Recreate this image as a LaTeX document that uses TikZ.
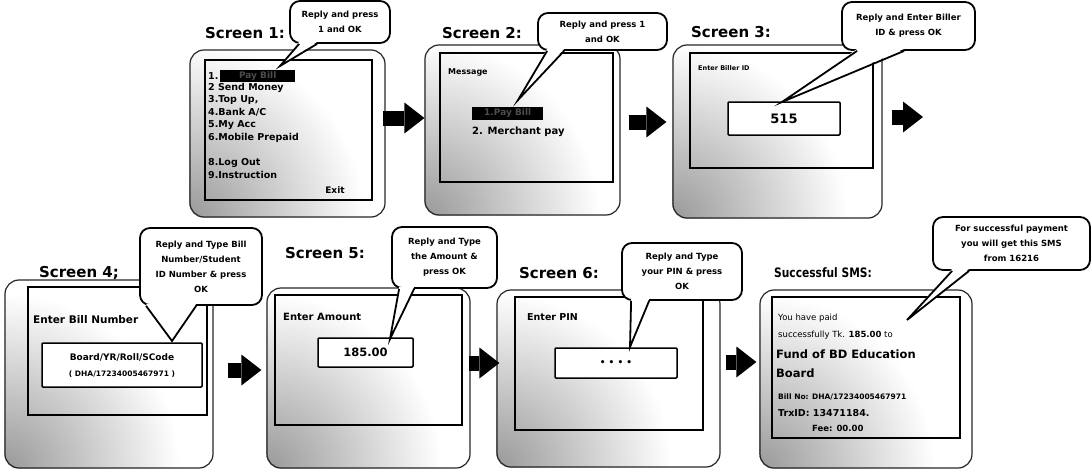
\documentclass[tikz,border=0pt]{standalone}
\usepackage{fontspec}
\setmainfont{DejaVu Sans}
\usetikzlibrary{arrows.meta,calc}
\pgfdeclarelayer{bg}
\pgfsetlayers{bg,main}
\begin{document}
\begin{tikzpicture}[x=1pt,y=-1pt,
  body/.style={draw=black!85, line width=1.2pt, rounded corners=14pt, inner sep=0pt},
  scr/.style={draw, line width=1.5pt, inner sep=0pt},
  title/.style={font=\fontsize{15}{18}\selectfont\bfseries, inner sep=0pt},
  callout/.style={draw, line width=1.8pt, rounded corners=10pt, fill=white, align=center,
                  font=\fontsize{8.5}{15}\selectfont\bfseries, inner sep=2pt},
  tailline/.style={line width=1.8pt, line join=miter},
  inbox/.style={draw, line width=1.5pt, fill=white, rounded corners=1pt, inner sep=0pt},
  menu/.style={anchor=west, font=\fontsize{9.5}{11}\selectfont\bfseries, inner sep=0pt},
  lbl/.style={anchor=west, inner sep=0pt},
  hilite/.style={fill=black, text=black!70, anchor=west, inner sep=0pt,
                 font=\fontsize{9}{10}\selectfont\bfseries},
  flow/.style={line width=15pt, -{Triangle[length=20pt,width=31pt,line width=0pt]}}]
\useasboundingbox (0,0) rectangle (1092,471);

% ---------- phone bodies ----------
\node[body, minimum width=195pt, minimum height=167pt] (b1) at (287.5,133.5) {};
\node[body, minimum width=195pt, minimum height=170pt] (b2) at (522.5,130) {};
\node[body, minimum width=209pt, minimum height=173pt] (b3) at (777.5,131.5) {};
\node[body, minimum width=208pt, minimum height=188pt] (b4) at (109,374) {};
\node[body, minimum width=203pt, minimum height=180pt] (b5) at (368.5,378) {};
\node[body, minimum width=223pt, minimum height=177pt] (b6) at (608.5,378.5) {};
\node[body, minimum width=212pt, minimum height=178pt] (b7) at (866,379) {};

\begin{pgfonlayer}{bg}
\foreach \b in {b1,b2,b3,b4,b5,b6,b7}{
  \begin{scope}
    \clip[rounded corners=14pt] (\b.south west) rectangle (\b.north east);
    \shade[inner color=black!40, outer color=white] (\b.south west) circle[radius=175pt];
  \end{scope}
}
\end{pgfonlayer}

% ---------- screens ----------
\node[scr, minimum width=167pt, minimum height=140pt] (s1) at (288.5,130) {};
\node[scr, minimum width=173pt, minimum height=129pt] (s2) at (526.5,117.5) {};
\node[scr, minimum width=183pt, minimum height=115pt] (s3) at (781.5,110.5) {};
\node[scr, minimum width=179pt, minimum height=128pt] (s4) at (117.5,351) {};
\node[scr, minimum width=187pt, minimum height=130pt] (s5) at (368.5,360) {};
\node[scr, minimum width=188pt, minimum height=133pt] (s6) at (609,363.5) {};
\node[scr, minimum width=188pt, minimum height=141pt] (s7) at (866,367.5) {};

% ---------- titles ----------
\node[title] (t1) at (245,33) {Screen 1:};
\node[title] (t2) at (482,33) {Screen 2:};
\node[title] (t3) at (731,32) {Screen 3:};
\node[title] (t4) at (79,273) {Screen 4;};
\node[title] (t5) at (325,253) {Screen 5:};
\node[title] (t6) at (559,273) {Screen 6:};
\node[inner sep=0pt, font=\fontsize{13}{15}\selectfont\bfseries] (t7) at (823,273) {\scalebox{0.82}[1]{Successful SMS:}};

% ---------- screen 1 menu ----------
\node[menu] (m1) at (208,76) {1.};
\node[hilite, minimum width=75pt, minimum height=12pt] (m1h) at (220,76) {Pay Bill};
\node[menu] (m2) at (208,88) {2 Send Money};
\node[menu] (m3) at (208,100) {3.Top Up,};
\node[menu] (m4) at (208,112.5) {4.Bank A/C};
\node[menu] (m5) at (208,125) {5.My Acc};
\node[menu] (m6) at (208,137.5) {6.Mobile Prepaid};
\node[menu] (m8) at (208,162.5) {8.Log Out};
\node[menu] (m9) at (208,175) {9.Instruction};
\node[inner sep=0pt, font=\fontsize{9}{10}\selectfont\bfseries] (ex) at (335,190) {Exit};

% ---------- screen 2 ----------
\node[lbl, font=\fontsize{8}{9}\selectfont\bfseries] (msg) at (448,72) {Message};
\node[hilite, minimum width=71pt, minimum height=13pt] (p1) at (472,113.5) {1.Pay Bill};
\node[lbl, font=\fontsize{10}{12}\selectfont\bfseries] (p2) at (472,132) {2. Merchant pay};

% ---------- screen 3 ----------
\node[lbl, font=\fontsize{6.5}{8}\selectfont\bfseries] (eb) at (698,68) {Enter Biller ID};
\node[inbox, minimum width=112pt, minimum height=33pt, font=\fontsize{13}{15}\selectfont\bfseries] (in3) at (784,118.5) {515};

% ---------- screen 4 ----------
\node[lbl, font=\fontsize{10.5}{12}\selectfont\bfseries] (ebn) at (33,320) {Enter Bill Number};
\node[inbox, minimum width=160pt, minimum height=44pt] (in4) at (122,365) {};
\node[inner sep=0pt, font=\fontsize{9}{10}\selectfont\bfseries] (bc) at (122,357) {Board/YR/Roll/SCode};
\node[inner sep=0pt, font=\fontsize{7.5}{9}\selectfont\bfseries] (bn) at (122,374) {( DHA/17234005467971 )};

% ---------- screen 5 ----------
\node[lbl, font=\fontsize{10}{12}\selectfont\bfseries] (ea) at (283,317) {Enter Amount};
\node[inbox, minimum width=95pt, minimum height=29pt, font=\fontsize{11.5}{14}\selectfont\bfseries] (in5) at (365.5,352.5) {185.00};

% ---------- screen 6 ----------
\node[lbl, font=\fontsize{9.5}{11}\selectfont\bfseries] (ep) at (527,317) {Enter PIN};
\node[inbox, minimum width=122pt, minimum height=30pt, font=\fontsize{9}{11}\selectfont\bfseries] (in6) at (616,363) {\textbullet\ \textbullet\ \textbullet\ \textbullet};

% ---------- SMS ----------
\node[lbl, font=\fontsize{8.5}{10}\selectfont] (l1) at (778,318) {You have paid};
\node[lbl, font=\fontsize{8.5}{10}\selectfont] (l2) at (778,335) {successfully Tk. \textbf{185.00} to};
\node[lbl, font=\fontsize{11.5}{13}\selectfont\bfseries] (l3) at (776,354) {Fund of BD Education};
\node[lbl, font=\fontsize{11.5}{13}\selectfont\bfseries] (l4) at (776,373) {Board};
\node[lbl, font=\fontsize{7.5}{9}\selectfont\bfseries] (l5) at (778,397) {Bill No: DHA/17234005467971};
\node[lbl, font=\fontsize{9.5}{11}\selectfont\bfseries] (l6) at (778,413) {TrxID: 13471184.};
\node[lbl, font=\fontsize{8.5}{10}\selectfont\bfseries] (l7) at (812,428) {Fee: 00.00};

% ---------- callouts ----------
\node[callout, minimum width=100pt, minimum height=42pt] (c1) at (340,22) {Reply and press\\1 and OK};
\node[callout, minimum width=129pt, minimum height=37pt] (c2) at (602.5,31.5) {Reply and press 1\\and OK};
\node[callout, minimum width=133pt, minimum height=48pt] (c3) at (908.5,26) {Reply and Enter Biller\\ID \& press OK};
\node[callout, minimum width=122pt, minimum height=77pt] (c4) at (201,266.5) {Reply and Type Bill\\Number/Student\\ID Number \& press\\OK};
\node[callout, minimum width=105pt, minimum height=61pt] (c5) at (444.5,257.5) {Reply and Type\\the Amount \&\\press OK};
\node[callout, minimum width=120pt, minimum height=57pt] (c6) at (682,271.5) {Reply and Type\\your PIN \& press\\OK};
\node[callout, minimum width=157pt, minimum height=53pt] (c7) at (1011.5,243.5) {For successful payment\\you will get this SMS\\from 16216};

\coordinate (k1) at (280,66);
\coordinate (k2) at (518,100);
\coordinate (k3) at (782,102);
\coordinate (k4) at (172,341);
\coordinate (k5) at (390,339);
\coordinate (k6) at (630,347);
\coordinate (k7) at (907,320);
\foreach \c/\k/\p/\q in {c1/k1/10/28, c2/k2/10/27, c3/k3/16/63, c4/k4/7/57,
                         c5/k5/8/23, c6/k6/10/28, c7/k7/20/37}{
  \fill[white] ($(\c.south west)+(\p,-2)$) -- (\k) -- ($(\c.south west)+(\q,-2)$) -- cycle;
  \draw[tailline] ($(\c.south west)+(\p,0)$) -- (\k) -- ($(\c.south west)+(\q,0)$);
}

% ---------- flow arrows ----------
\coordinate (y12) at (0,118);
\coordinate (y23) at (0,122);
\coordinate (a34) at (923,117);
\coordinate (y45) at (0,370);
\coordinate (y56) at (0,363);
\coordinate (y67) at (0,362);
\draw[flow, shorten <=-3pt] (b1.east |- y12) -- (b2.west |- y12);
\draw[flow, shorten <=8pt, shorten >=6pt] (b2.east |- y23) -- (b3.west |- y23);
\draw[flow, shorten <=9pt] (b3.east |- a34) -- (a34);
\draw[flow, shorten <=14pt, shorten >=5pt] (b4.east |- y45) -- (b5.west |- y45);
\draw[flow, shorten <=-2pt, shorten >=-3pt] (b5.east |- y56) -- (b6.west |- y56);
\draw[flow, shorten <=5pt, shorten >=3pt] (b6.east |- y67) -- (b7.west |- y67);
\end{tikzpicture}
\end{document}
